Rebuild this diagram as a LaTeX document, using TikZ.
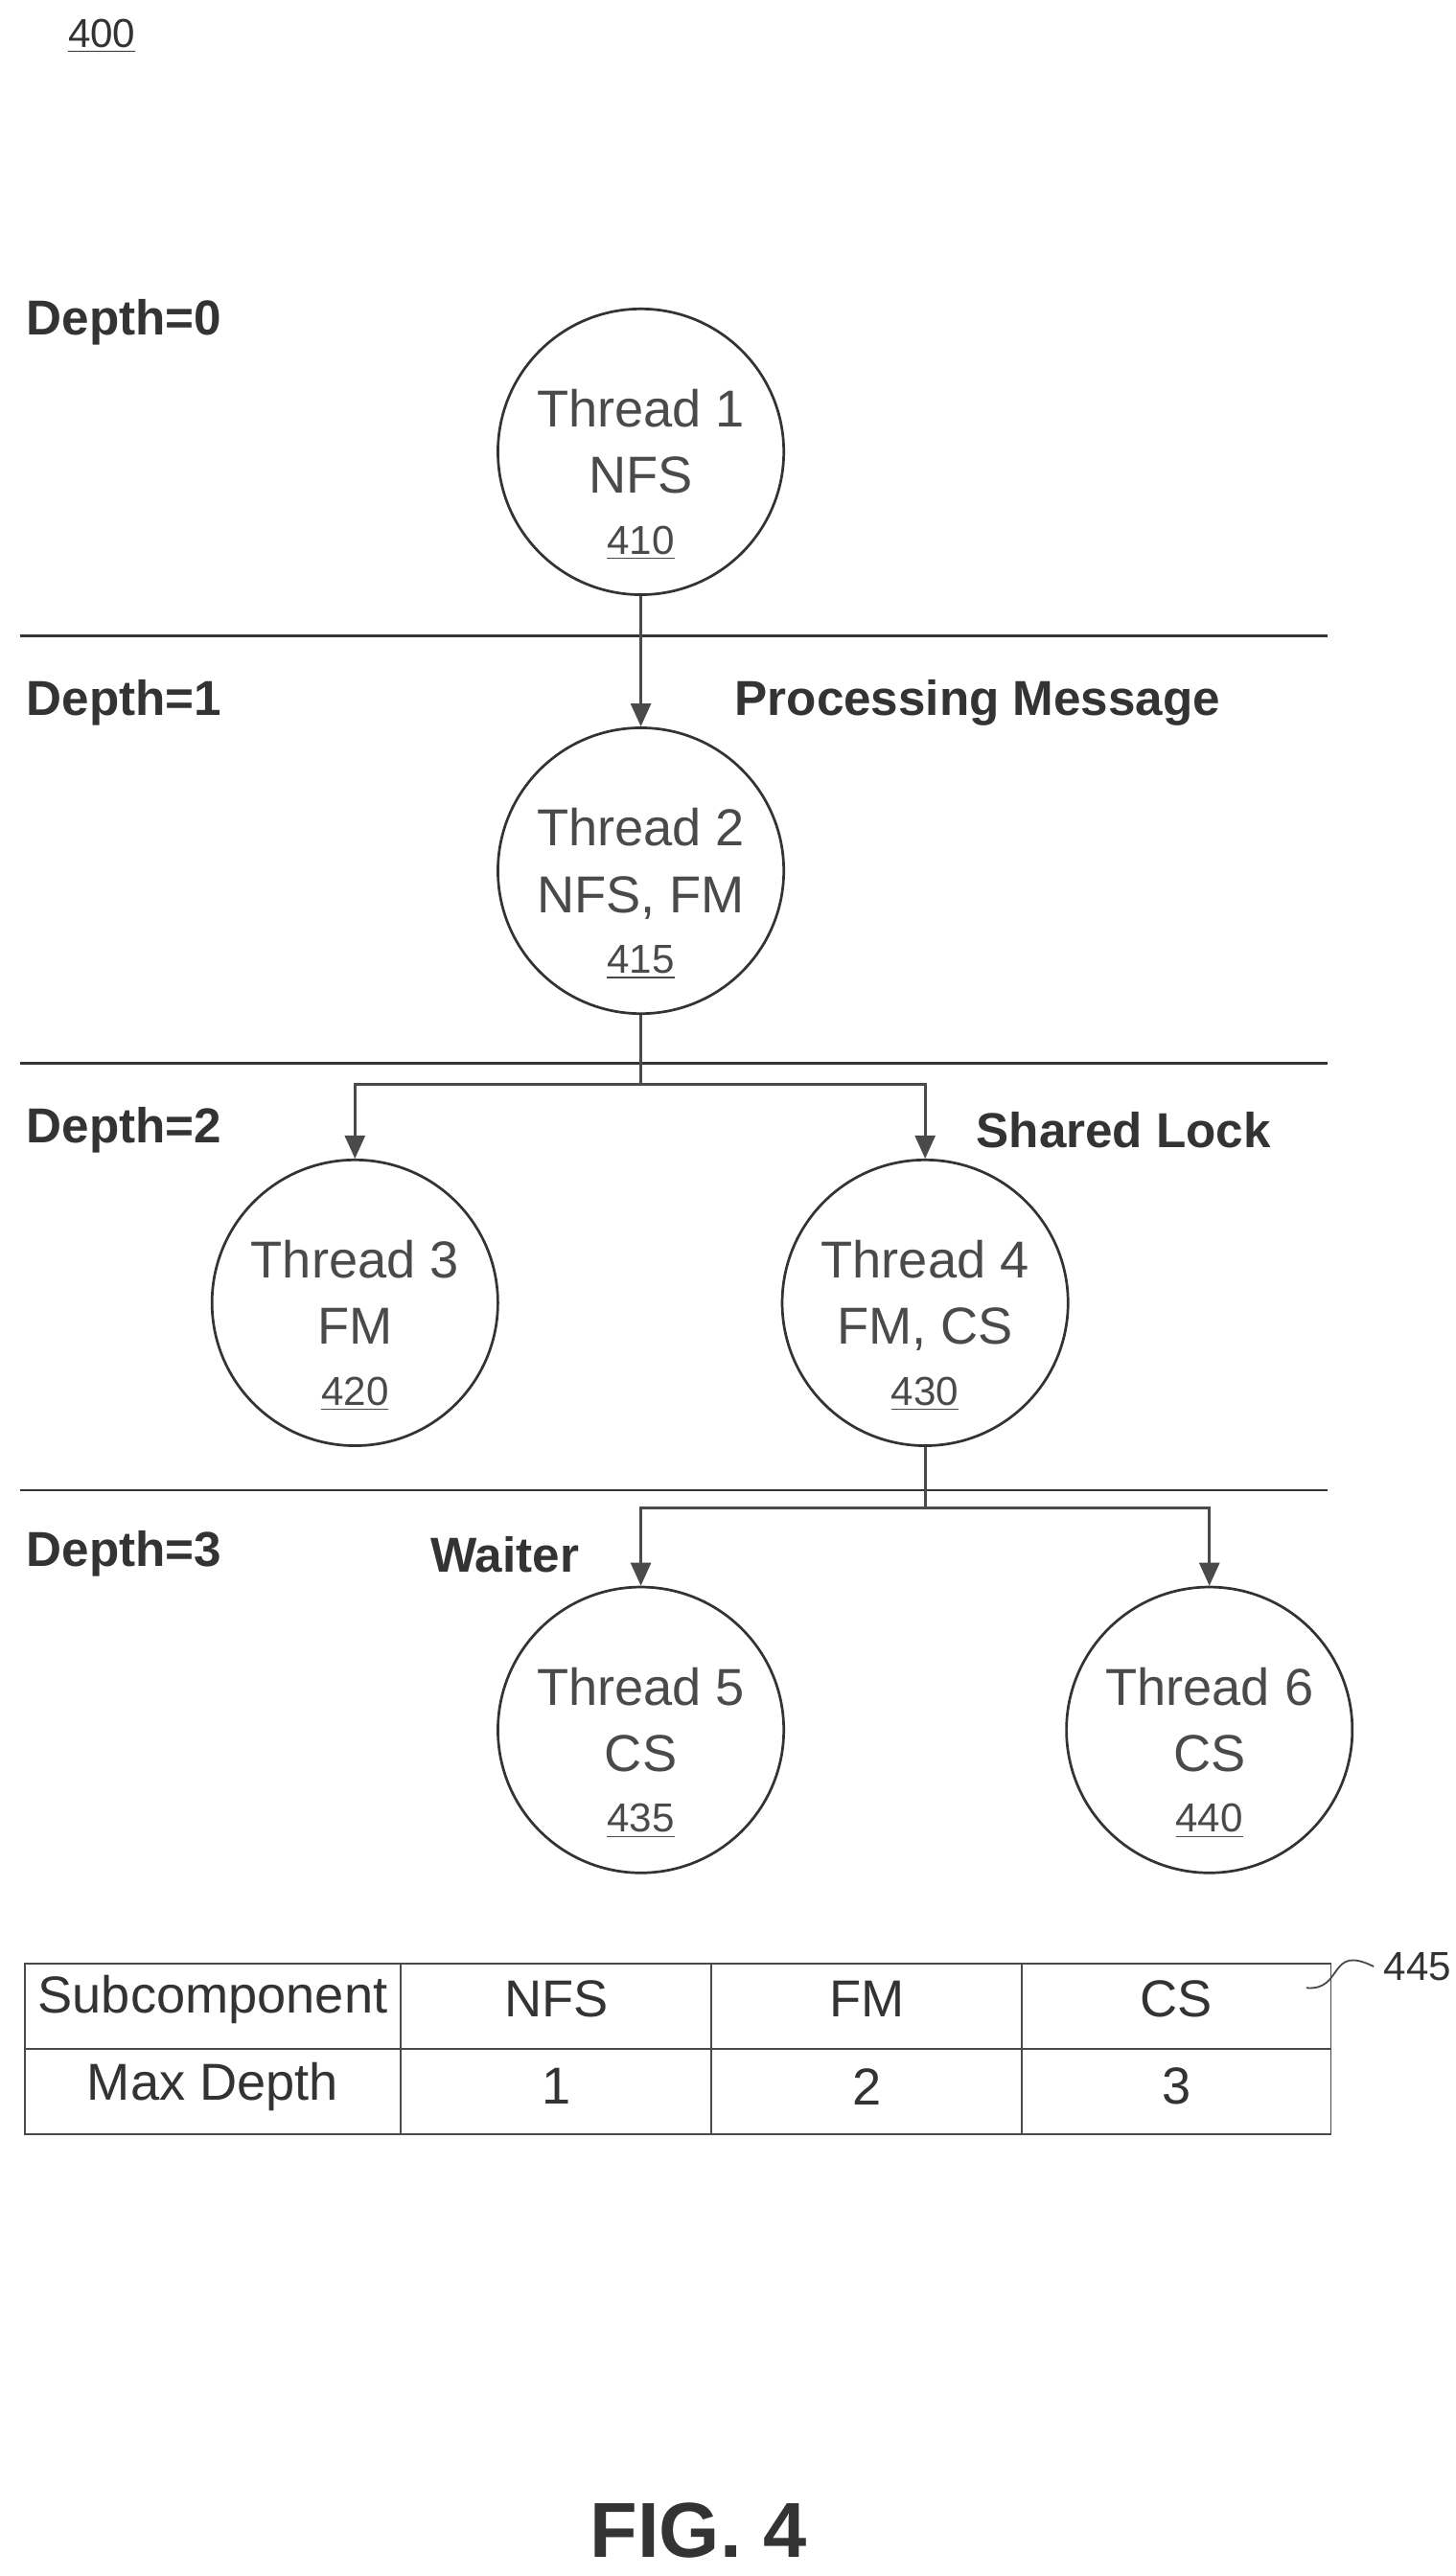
\documentclass[tikz,border=0pt]{standalone}
\usepackage{fontspec}
\setmainfont{Liberation Sans}
\definecolor{ink}{HTML}{333333}
\definecolor{soft}{HTML}{4A4A4A}
\usetikzlibrary{calc, positioning, arrows.meta}
\newcommand{\refnum}[1]{\underline{#1}}

\begin{document}
\begin{tikzpicture}[x=0.02cm, y=-0.02cm,
  thread/.style={circle, draw=ink, line width=0.9pt, minimum size=3.48cm, inner sep=0pt},
  threadtext/.style={align=center, text=soft, font=\fontsize{18}{23}\selectfont},
  depth/.style={anchor=west, text=ink, font=\fontsize{17}{20}\selectfont\bfseries},
  tag/.style={anchor=west, text=ink, font=\fontsize{17}{20}\selectfont\bfseries},
  level/.style={draw=ink, line width=0.9pt},
  link/.style={draw=soft, line width=0.9pt, -{Triangle[length=8pt, width=7pt]}},
  cell/.style={text=ink, font=\fontsize{18}{22}\selectfont}]
  \useasboundingbox[fill=white] (0,0) rectangle (886,1568);

  % figure number
  \node[text=ink, font=\fontsize{14}{16}\selectfont] (fignum) at (62,22) {\refnum{400}};

  % depth levels
  \node[depth] (d0) at (10,196) {Depth=0};
  \node[depth] (d1) at (10,428) {Depth=1};
  \node[depth] (d2) at (10,688) {Depth=2};
  \node[depth] (d3) at (10,946) {Depth=3};
  \draw[level] (12,387) -- (808,387);
  \draw[level] (12,647) -- (808,647);
  \draw[level] (12,907) -- (808,907);

  % threads
  \node[thread] (t1) at (390,275) {};
  \node[thread] (t2) at (390,530) {};
  \node[thread] (t3) at (216,793) {};
  \node[thread] (t4) at (563,793) {};
  \node[thread] (t5) at (390,1053) {};
  \node[thread] (t6) at (736,1053) {};
  \node[threadtext] at ($(t1)+(0,14)$) {Thread 1\\NFS\\[-2pt]\fontsize{14}{16}\selectfont\refnum{410}};
  \node[threadtext] at ($(t2)+(0,14)$) {Thread 2\\NFS, FM\\[-2pt]\fontsize{14}{16}\selectfont\refnum{415}};
  \node[threadtext] at ($(t3)+(0,14)$) {Thread 3\\FM\\[-2pt]\fontsize{14}{16}\selectfont\refnum{420}};
  \node[threadtext] at ($(t4)+(0,14)$) {Thread 4\\FM, CS\\[-2pt]\fontsize{14}{16}\selectfont\refnum{430}};
  \node[threadtext] at ($(t5)+(0,14)$) {Thread 5\\CS\\[-2pt]\fontsize{14}{16}\selectfont\refnum{435}};
  \node[threadtext] at ($(t6)+(0,14)$) {Thread 6\\CS\\[-2pt]\fontsize{14}{16}\selectfont\refnum{440}};

  % links between threads
  \coordinate (j2) at (390,660);
  \coordinate (j4) at (563,918);
  \draw[link] (t1) -- (t2);
  \draw[draw=soft, line width=0.9pt] (t2) -- (j2);
  \draw[link] (j2) -| (t3);
  \draw[link] (j2) -| (t4);
  \draw[draw=soft, line width=0.9pt] (t4) -- (j4);
  \draw[link] (j4) -| (t5);
  \draw[link] (j4) -| (t6);

  % tags
  \node[tag] (msg) at (441,428) {Processing Message};
  \node[tag] (lock) at (588,688) {Shared Lock};
  \node[tag] (wait) at (256,946) {Waiter};

  % table 445
  \draw[level, draw=soft, line width=0.6pt] (15,1195) rectangle (810,1299);
  \draw[draw=soft, line width=0.6pt] (15,1247) -- (810,1247);
  \foreach \x in {244,433,622}
    \draw[draw=soft, line width=0.6pt] (\x,1195) -- (\x,1299);
  \node[cell] (h0) at (129.5,1217) {Subcomponent};
  \node[cell] (h1) at (338.5,1217) {NFS};
  \node[cell] (h2) at (527.5,1217) {FM};
  \node[cell] (h3) at (716,1217) {CS};
  \node[cell] (r0) at (129.5,1270) {Max Depth};
  \node[cell] (r1) at (338.5,1270) {1};
  \node[cell] (r2) at (527.5,1270) {2};
  \node[cell] (r3) at (716,1270) {3};
  \node[anchor=west, text=ink, font=\fontsize{14}{16}\selectfont] (tab) at (836,1197) {445};
  \draw[draw=soft, line width=0.6pt] (795,1210) .. controls (818,1212) and (808,1183) .. (tab.west);

  % caption
  \node[text=ink, font=\fontsize{27}{30}\selectfont\bfseries] (fig) at (425,1540) {FIG. 4};
\end{tikzpicture}
\end{document}
